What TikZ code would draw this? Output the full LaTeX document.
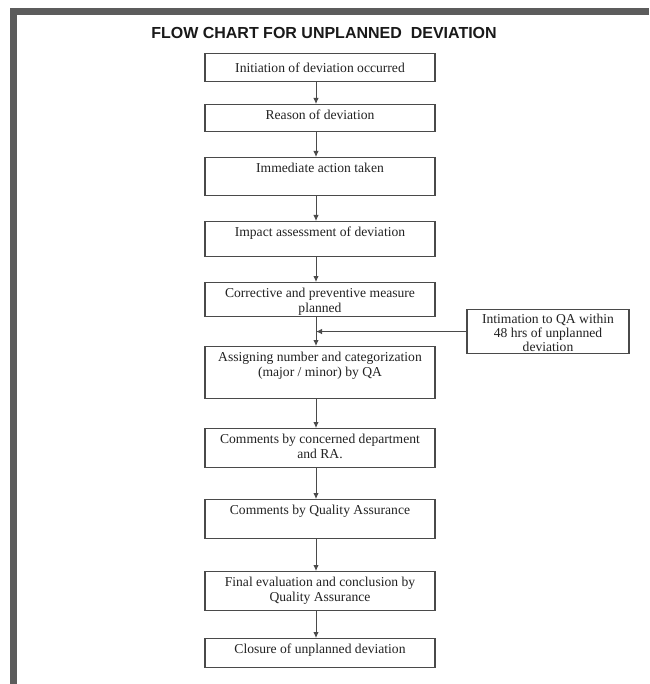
\documentclass[tikz,border=0pt]{standalone}
\usepackage{fontspec}
\setmainfont{Liberation Serif}
\newfontfamily\headfont{Liberation Sans}
\usetikzlibrary{arrows.meta}
\definecolor{framegray}{HTML}{5C5C5C}
\definecolor{linegray}{HTML}{4A4A4A}
\definecolor{inkgray}{HTML}{222222}
% top-aligned, centred text block of fixed height and width
\newcommand{\bxt}[3]{\parbox[c][#1][t]{#2}{\centering\strut #3}}

\begin{document}
\begin{tikzpicture}[x=1pt,y=-1pt,
  stepbox/.style={draw=linegray, line width=1.1pt, inner xsep=4pt, inner ysep=4.5pt,
    anchor=north, text=inkgray, font=\fontsize{13.6}{15}\selectfont},
  flow/.style={draw=linegray, line width=1pt, -{Latex[length=6pt,width=5.5pt]}}]
\useasboundingbox (0,0) rectangle (649,684);
\fill[white] (0,0) rectangle (649,684);
% page frame
\fill[framegray] (10,8) rectangle (649,15);
\fill[framegray] (10,8) rectangle (17,684);

\node[font=\headfont\bfseries\fontsize{16}{19}\selectfont, text=black!90] (title) at (324,33)
  {FLOW CHART FOR UNPLANNED\ \ DEVIATION};

% process steps
\node[stepbox] (b1)  at (320,53)  {\parbox[c][19pt][c]{222pt}{\centering Initiation of deviation occurred}};
\node[stepbox] (b2)  at (320,104) {\bxt{18pt}{222pt}{Reason of deviation}};
\node[stepbox] (b3)  at (320,157) {\bxt{29pt}{222pt}{Immediate action taken}};
\node[stepbox] (b4)  at (320,221) {\bxt{26pt}{222pt}{Impact assessment of deviation}};
\node[stepbox] (b5)  at (320,282) {\bxt{25pt}{222pt}{Corrective and preventive measure\\planned}};
\node[stepbox] (b6)  at (320,346) {\bxt{43pt}{222pt}{Assigning number and categorization\\(major / minor) by QA}};
\node[stepbox] (b7)  at (320,428) {\bxt{30pt}{222pt}{Comments by concerned department\\and RA.}};
\node[stepbox] (b8)  at (320,499) {\bxt{30pt}{222pt}{Comments by Quality Assurance}};
\node[stepbox] (b9)  at (320,571) {\bxt{30pt}{222pt}{Final evaluation and conclusion by\\Quality Assurance}};
\node[stepbox] (b10) at (320,638) {\bxt{20pt}{222pt}{Closure of unplanned deviation}};

% side input
\node[stepbox, font=\fontsize{13.6}{14}\selectfont] (side) at (548,309)
  {\bxt{35pt}{154pt}{Intimation to QA within\\48 hrs of unplanned\\deviation}};

% connectors
\foreach \a/\b in {b1/b2, b2/b3, b3/b4, b4/b5, b5/b6, b6/b7, b7/b8, b8/b9, b9/b10}
  \draw[flow] ([xshift=-4pt]\a.south) -- ([xshift=-4pt]\b.north);
\coordinate (j) at ([xshift=-4pt]b5.south);
\draw[flow] (side.west) -- (side.west -| j);
\end{tikzpicture}
\end{document}
